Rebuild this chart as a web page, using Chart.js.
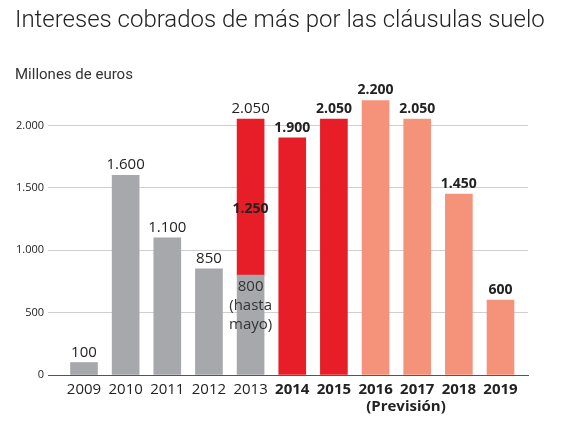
<!DOCTYPE html>
<html>
<head>
<meta charset="utf-8">
<script src="https://cdn.jsdelivr.net/npm/chart.js@4/dist/chart.umd.min.js"></script>
<style>
  html, body { margin: 0; padding: 0; background: #fff; }
  #wrap { width: 574px; height: 425px; }
</style>
</head>
<body>
<div id="wrap"><canvas id="chart"></canvas></div>
<script>
// datos (millones de euros)
const years = [2009, 2010, 2011, 2012, 2013, 2014, 2015, 2016, 2017, 2018, 2019];
const grayValues = [100, 1600, 1100, 850, 800, null, null, null, null, null, null];
const redValues = [null, null, null, null, 1250, 1900, 2050, null, null, null, null];
const forecastValues = [null, null, null, null, null, null, null, 2200, 2050, 1450, 600];
const yTicks = [0, 500, 1000, 1500, 2000];
const grayNote = ['800', '(hasta', 'mayo)'];
const forecastNote = '(Previsión)';
const titleText = 'Intereses cobrados de más por las cláusulas suelo';

const fmt = v => String(v).replace(/\B(?=(\d{3})+(?!\d))/g, '.');
const toPoints = arr => years.map((yr, i) => ({ x: yr, y: arr[i] })).filter(p => p.y !== null);

const FONT = '"Open Sans", "Noto Sans", sans-serif';

const labelsPlugin = {
  id: 'labels',
  afterDatasetsDraw(chart) {
    const { ctx, scales: { x, y } } = chart;
    ctx.save();
    ctx.textAlign = 'center';
    ctx.textBaseline = 'alphabetic';
    ctx.fillStyle = '#222';
    years.forEach((yr, i) => {
      const total = (grayValues[i] || 0) + (redValues[i] || 0) + (forecastValues[i] || 0);
      const bold = yr >= 2014;
      ctx.font = (bold ? 'bold 14px ' : '15px ') + FONT;
      ctx.fillText(fmt(total), x.getPixelForValue(yr), y.getPixelForValue(total) - 6);
    });

    // 2013: parte roja y parte gris
    const i13 = years.indexOf(2013);
    const cx = x.getPixelForValue(2013);
    ctx.font = 'bold 14px ' + FONT;
    ctx.fillText(fmt(redValues[i13]), cx, y.getPixelForValue(grayValues[i13] + redValues[i13] / 2) + 16);
    ctx.font = '15px ' + FONT;
    ctx.fillStyle = '#333';
    const gTop = y.getPixelForValue(grayValues[i13]);
    grayNote.forEach((t, k) => ctx.fillText(t, cx, gTop + 16 + k * 19));

    // previsión
    ctx.fillStyle = '#222';
    ctx.font = 'bold 15px ' + FONT;
    ctx.fillText(forecastNote, x.getPixelForValue(2016.73), 411);

    // título (sin maxWidth, para que no se comprima)
    ctx.textAlign = 'left';
    ctx.font = '300 24px Roboto';
    ctx.fillText(titleText, 15, 27);
    ctx.restore();
  }
};

new Chart(document.getElementById('chart'), {
  type: 'bar',
  data: {
    datasets: [
      { data: toPoints(grayValues), backgroundColor: '#a7a8ac' },
      { data: toPoints(redValues), backgroundColor: '#e71d27' },
      { data: toPoints(forecastValues), backgroundColor: '#f4937a' }
    ]
  },
  options: {
    responsive: true,
    maintainAspectRatio: false,
    animation: false,
    barThickness: 27,
    layout: { padding: { left: 15, right: 46, top: 0, bottom: 0 } },
    plugins: {
      legend: { display: false },
      tooltip: { enabled: false },
      title: { display: false },
      subtitle: {
        display: true,
        text: 'Millones de euros',
        align: 'start',
        color: '#333',
        font: { family: 'Roboto', size: 15, weight: 'normal' },
        padding: { top: 66, bottom: 4 }
      }
    },
    scales: {
      x: {
        type: 'linear',
        stacked: true,
        offset: false,
        min: 2008.136,
        max: 2019.66,
        afterBuildTicks: s => { s.ticks = years.map(v => ({ value: v })); },
        afterFit: s => { s.height = 50; },
        grid: { display: false, drawTicks: false },
        border: { display: true, color: '#555', width: 1 },
        ticks: {
          autoSkip: false,
          maxRotation: 0,
          padding: 6,
          color: '#222',
          callback: v => String(v),
          font: c => ({ family: FONT, size: 15, weight: c.tick && c.tick.value >= 2014 ? 'bold' : 'normal' })
        }
      },
      y: {
        stacked: true,
        min: 0,
        max: 2300,
        afterBuildTicks: s => { s.ticks = yTicks.map(v => ({ value: v })); },
        afterFit: s => { s.width = 33; },
        border: { display: false },
        grid: {
          drawTicks: false,
          color: c => c.tick && c.tick.value === 0 ? '#555' : '#cfcfcf',
          lineWidth: 1
        },
        ticks: {
          padding: 4,
          color: '#222',
          font: { family: FONT, size: 11 },
          callback: v => fmt(v)
        }
      }
    }
  },
  plugins: [labelsPlugin]
});
</script>
</body>
</html>
